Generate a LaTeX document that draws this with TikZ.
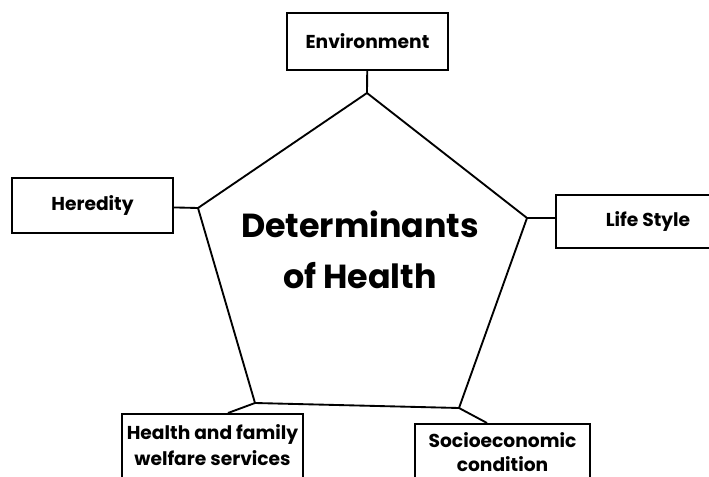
\documentclass[tikz,border=0pt]{standalone}
\usepackage{fontspec}
\setmainfont{Poppins}
\usetikzlibrary{positioning}
\tikzset{%
factor/.style={draw,rectangle,line width=1.8pt,font=\bfseries\fontsize{14}{19.5}\selectfont,inner sep=0pt,align=center},
title/.style={font=\bfseries\fontsize{25}{38}\selectfont,align=center},
side/.style={line width=1.4pt},
link/.style={line width=1.4pt}
}

\begin{document}
\begin{tikzpicture}[x=0.75pt,y=-0.75pt]
\useasboundingbox (0,0) rectangle (709,477);

% corners of the pentagon
\coordinate (top) at (367,93);
\coordinate (left) at (198,208);
\coordinate (right) at (527,218);
\coordinate (botleft) at (255,403);
\coordinate (botright) at (459,408);
\draw[side] (top) -- (right) -- (botright) -- (botleft) -- (left) -- cycle;

\node[title] (title) at (360,250) {Determinants\\of Health};

% the five factors
\node[factor,minimum width=120.75pt,minimum height=42.75pt] (env) at (367.5,41.5) {Environment};
\node[factor,minimum width=120.75pt,minimum height=41.25pt] (her) at (92.5,205.5) {Heredity};
\node[factor,minimum width=138pt,minimum height=39.75pt] (life) at (648,221.5) {Life Style};
\node[factor,anchor=north,minimum width=135.75pt,inner ysep=7.5pt,text depth=30pt] (hfw) at (212.5,413) {Health and family\\welfare services};
\node[factor,anchor=north,minimum width=131.25pt,inner ysep=6.5pt,text depth=30pt,font=\bfseries\fontsize{14}{17.5}\selectfont] (soc) at (502.5,423) {Socioeconomic\\condition};

\draw[link] (env) -- (top);
\draw[link] (her) -- (left);
\draw[link] (right) -- (right -| life.west);
\draw[link] (botleft) -- ([xshift=11.6pt]hfw.north);
\draw[link] (botright) -- ([xshift=-11.6pt]soc.north);
\end{tikzpicture}
\end{document}
